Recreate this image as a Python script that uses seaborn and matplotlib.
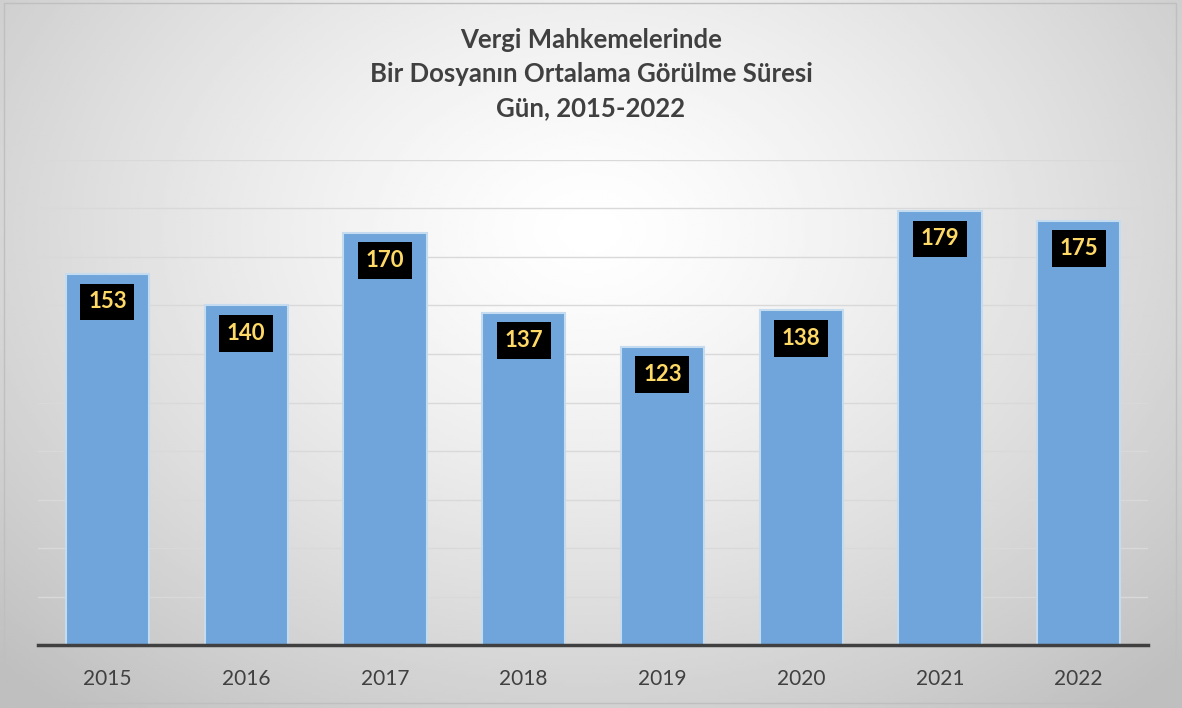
import numpy as np
import pandas as pd
import matplotlib
matplotlib.use("Agg")
import matplotlib.pyplot as plt
from matplotlib.patches import Rectangle
import seaborn as sns

# --------------------------------------------------------
# Data
# --------------------------------------------------------
years = ["2015", "2016", "2017", "2018", "2019", "2020", "2021", "2022"]
days = [153, 140, 170, 137, 123, 138, 179, 175]
title_lines = ["Vergi Mahkemelerinde", "Bir Dosyanın Ortalama Görülme Süresi", "Gün, 2015-2022"]

BAR_COLOR = "#6FA5DA"
EDGE_COLOR = "#C5DCF0"
TEXT_COLOR = "#404040"

sns.set_theme(style="white")
plt.rcParams["font.family"] = ["Lato", "DejaVu Sans"]

df = pd.DataFrame({"year": years, "days": days})

fig = plt.figure(figsize=(11.82, 7.08), dpi=100)

# --------------------------------------------------------
# Radial gradient background
# --------------------------------------------------------
bg = fig.add_axes([0, 0, 1, 1], zorder=0)
gx, gy = np.meshgrid(np.linspace(0, 1182, 400), np.linspace(0, 708, 240))
r = np.sqrt(((gx - 590) / 700) ** 2 + ((gy - 230) / 520) ** 2)
shade = 1.0 - 0.20 * np.clip(r, 0, 1.2) ** 1.3
bg.imshow(shade, cmap="gray", vmin=0, vmax=1, extent=[0, 1182, 708, 0], aspect="auto")
bg.add_patch(Rectangle((4, 3), 1172, 700, fill=False, edgecolor="#BFBFBF", lw=1))
bg.set_xlim(0, 1182)
bg.set_ylim(708, 0)
bg.axis("off")

# --------------------------------------------------------
# Bars
# --------------------------------------------------------
ax = fig.add_axes([38 / 1182, 63 / 708, 1110 / 1182, 485 / 708], zorder=1)
ax.patch.set_alpha(0)
sns.barplot(data=df, x="year", y="days", color=BAR_COLOR, saturation=1,
            width=0.6, edgecolor=EDGE_COLOR, linewidth=1.5, ax=ax, zorder=2)

ax.set_ylim(0, 200)
ax.set_xlim(-0.5, len(years) - 0.5)
ax.set_yticks(np.arange(20, 201, 20))
ax.yaxis.grid(True, color="#D9D9D9", lw=1, zorder=0)
ax.set_axisbelow(True)
ax.tick_params(axis="y", left=False, labelleft=False)
ax.tick_params(axis="x", bottom=False, labelsize=15, labelcolor=TEXT_COLOR, pad=11)
ax.set_xlabel("")
ax.set_ylabel("")
for side in ["top", "right", "left"]:
    ax.spines[side].set_visible(False)
ax.spines["bottom"].set_color(TEXT_COLOR)
ax.spines["bottom"].set_linewidth(2.5)

# value labels in black boxes
for i, v in enumerate(days):
    ax.text(i, v - 11.5, str(v), ha="center", va="center", fontsize=16,
            fontweight="bold", color="#FFD966", zorder=4,
            bbox=dict(boxstyle="square,pad=0.35", facecolor="black", edgecolor="none"))

# --------------------------------------------------------
# Title
# --------------------------------------------------------
for k, line in enumerate(title_lines):
    fig.text(0.5, 1 - (40 + 34 * k) / 708, line, ha="center", va="center",
             fontsize=18.5, fontweight="bold", color=TEXT_COLOR)

fig.savefig("out.png", dpi=100)
plt.close(fig)
